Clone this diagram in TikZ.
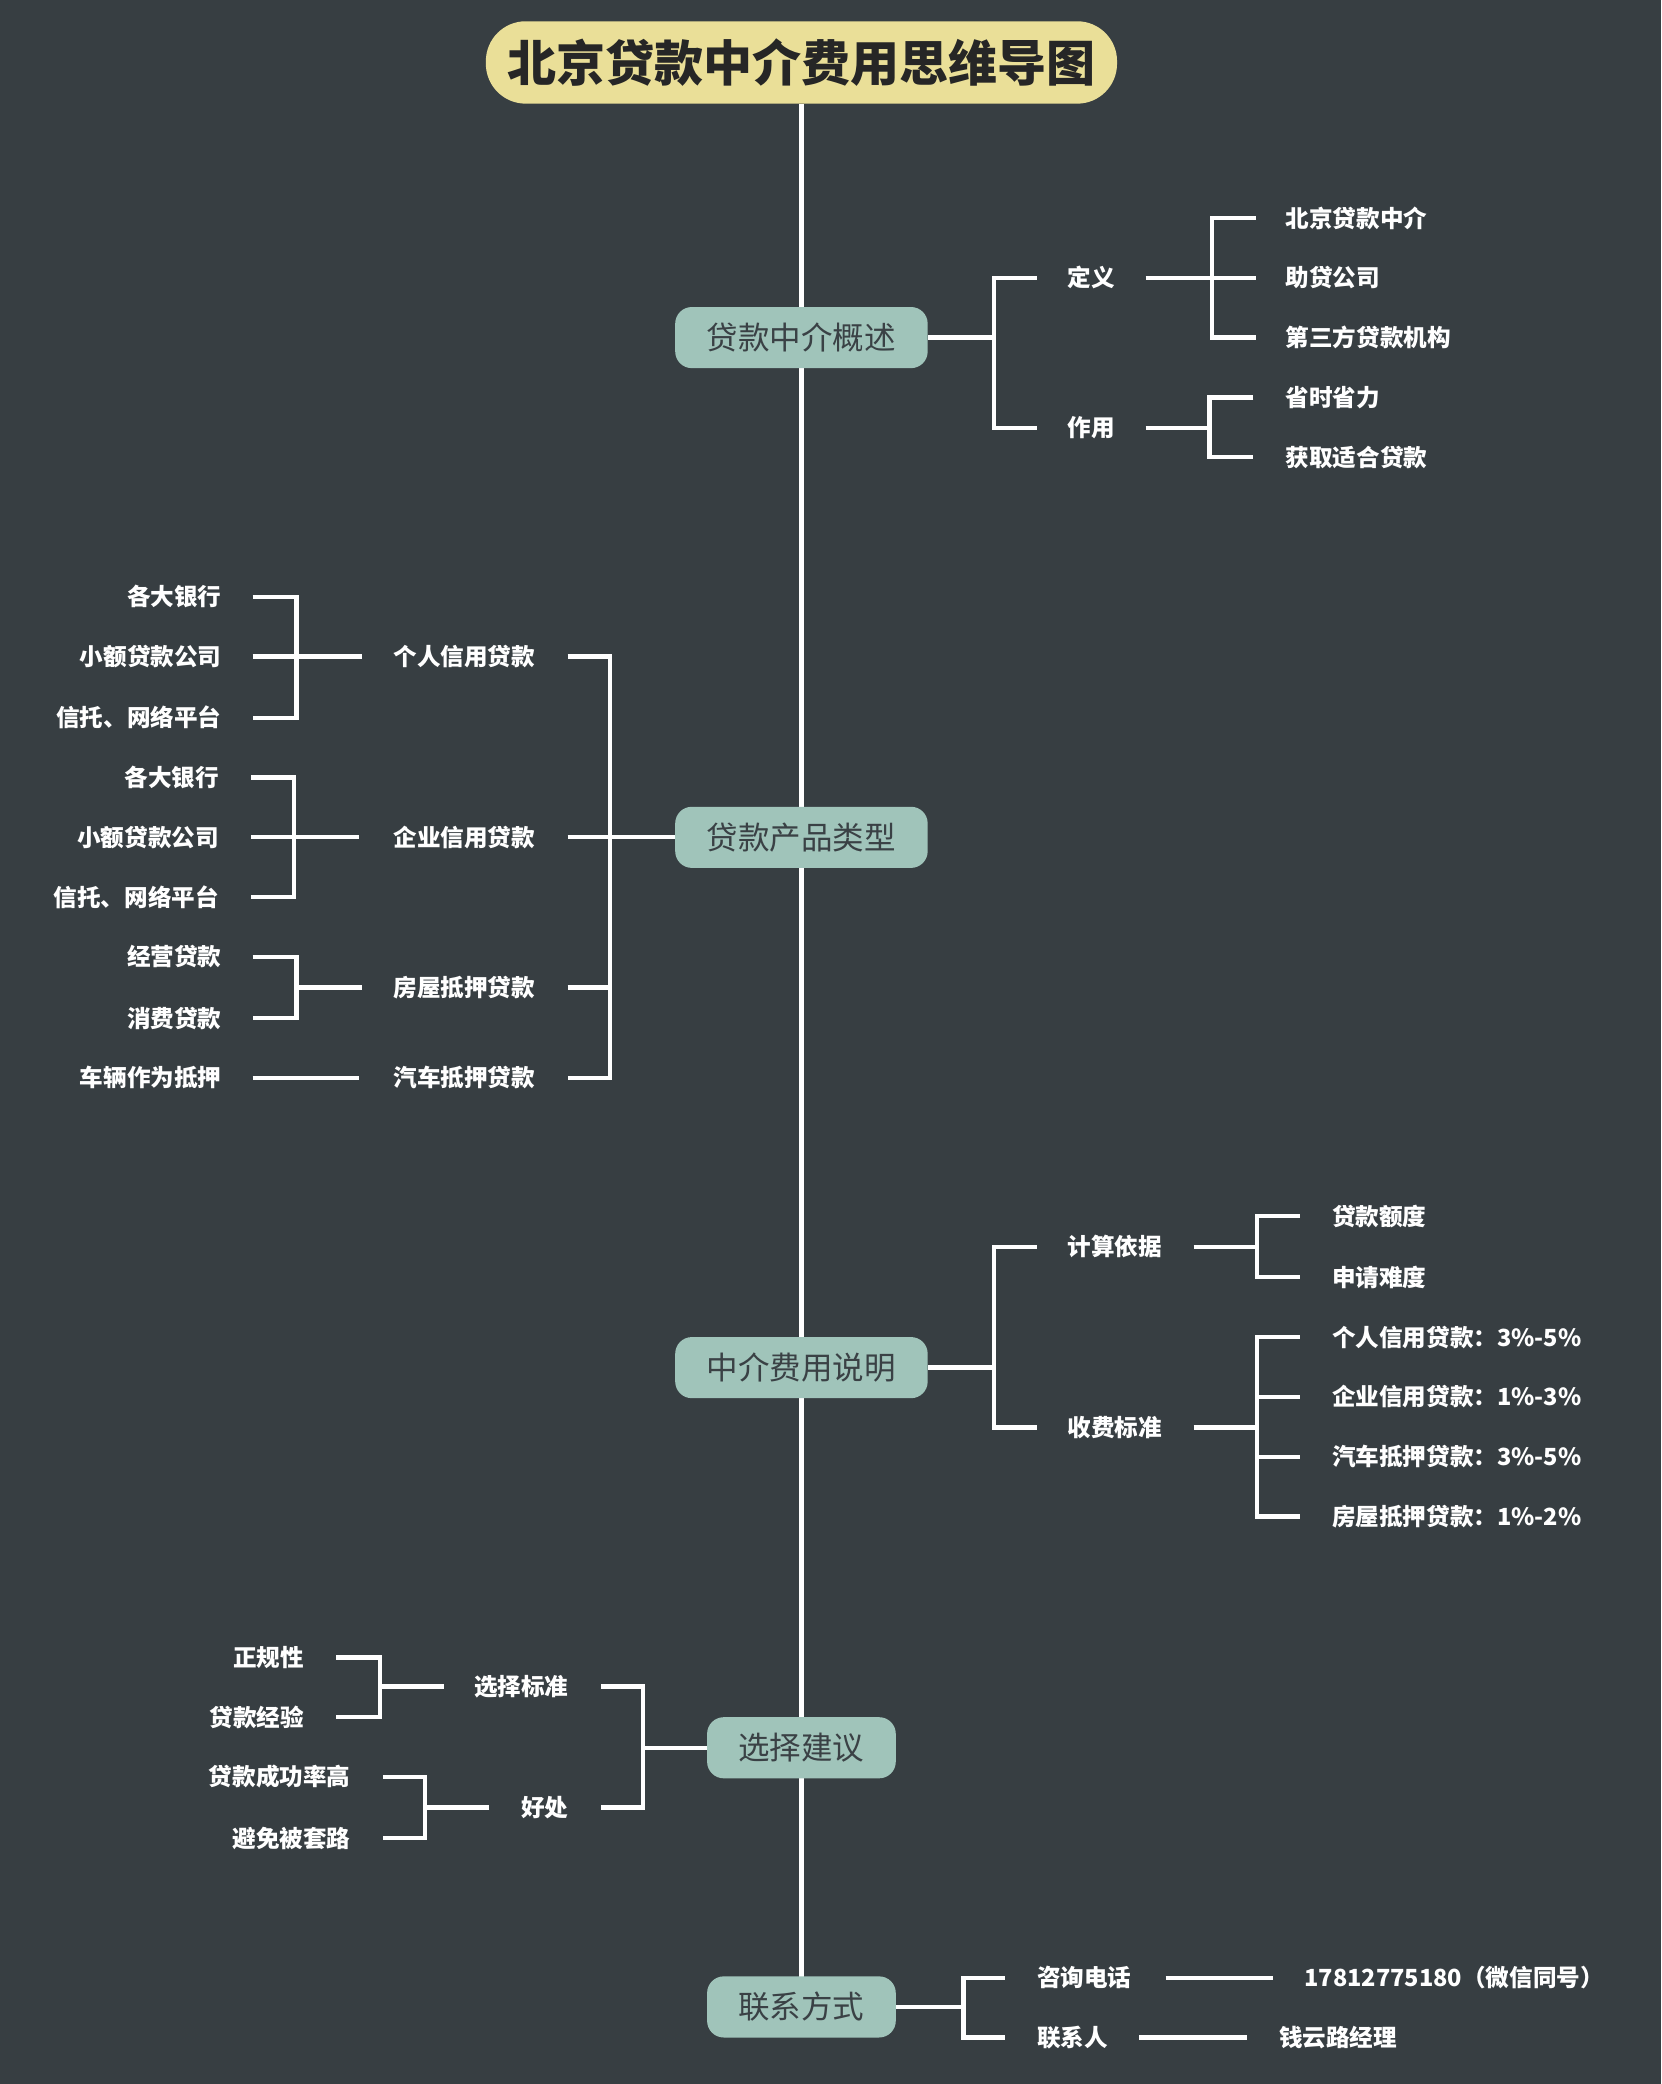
\documentclass[tikz,border=0pt]{standalone}
\usepackage{fontspec}
\setmainfont{Noto Sans CJK SC}
\begin{document}
\begin{tikzpicture}[x=0.02cm,y=-0.02cm,
  ln/.style={draw=white,line width=0.065cm},
  main/.style={fill=mainc,rounded corners=0.25cm,minimum height=0.92cm,text=txtd,font=\fontsize{13.5}{14}\selectfont,inner sep=0pt},
  lf/.style={text=white,font=\bfseries\fontsize{10.1}{11}\selectfont,inner sep=0pt},
  L/.style={lf,anchor=west},R/.style={lf,anchor=east}]
\definecolor{bg}{HTML}{373E42}
\definecolor{mainc}{HTML}{A0C4BA}
\definecolor{titc}{HTML}{EADF98}
\definecolor{txtd}{HTML}{3A4145}
\fill[bg] (0,0) rectangle (1250,1568);
\useasboundingbox (0,0) rectangle (1250,1568);
% spine
\coordinate (s1) at (603,78); \coordinate (s2) at (603,1490);
\draw[ln] (s1) -- (s2);
\node[fill=titc,rounded corners=0.6cm,minimum width=9.5cm,minimum height=1.24cm,text=black!85,font=\bfseries\fontsize{21}{22}\selectfont,inner sep=0pt] (title) at (603,47) {北京贷款中介费用思维导图};
\node[main,minimum width=3.8cm] (m1) at (603,254) {贷款中介概述};
\node[main,minimum width=3.8cm] (m2) at (603,630) {贷款产品类型};
\node[main,minimum width=3.8cm] (m3) at (603,1029) {中介费用说明};
\node[main,minimum width=2.84cm] (m4) at (603,1315) {选择建议};
\node[main,minimum width=2.84cm] (m5) at (603,1510) {联系方式};
% branch 1
\draw[ln] (m1.east) -- (748,254);
\draw[ln] (780,209) -- (748,209) -- (748,322) -- (780,322);
\node[L] (a1) at (803,209) {定义};
\node[L] (a2) at (803,322) {作用};
\draw[ln] (862,209) -- (912,209);
\draw[ln] (945,164) -- (912,164) -- (912,254) -- (945,254);
\draw[ln] (912,209) -- (945,209);
\node[L] at (967,164) {北京贷款中介};
\node[L] at (967,209) {助贷公司};
\node[L] at (967,254) {第三方贷款机构};
\draw[ln] (862,322) -- (910,322);
\draw[ln] (943,299) -- (910,299) -- (910,344) -- (943,344);
\node[L] at (967,299) {省时省力};
\node[L] at (967,344) {获取适合贷款};
% branch 2
\draw[ln] (m2.west) -- (459,630);
\draw[ln] (427,494) -- (459,494) -- (459,811) -- (427,811);
\draw[ln] (427,630) -- (459,630); \draw[ln] (427,743) -- (459,743);
\node[R] at (403,494) {个人信用贷款};
\node[R] at (403,630) {企业信用贷款};
\node[R] at (403,743) {房屋抵押贷款};
\node[R] at (403,811) {汽车抵押贷款};
\draw[ln] (272,494) -- (223,494);
\draw[ln] (190,449) -- (223,449) -- (223,540) -- (190,540); \draw[ln] (190,494) -- (223,494);
\node[R] at (167,449) {各大银行};
\node[R] at (167,494) {小额贷款公司};
\node[R] at (167,540) {信托、网络平台};
\draw[ln] (270,630) -- (221,630);
\draw[ln] (189,585) -- (221,585) -- (221,675) -- (189,675); \draw[ln] (189,630) -- (221,630);
\node[R] at (165,585) {各大银行};
\node[R] at (165,630) {小额贷款公司};
\node[R] at (165,675) {信托、网络平台};
\draw[ln] (272,743) -- (223,743);
\draw[ln] (190,720) -- (223,720) -- (223,766) -- (190,766);
\node[R] at (167,720) {经营贷款};
\node[R] at (167,766) {消费贷款};
\draw[ln] (190,811) -- (270,811);
\node[R] at (167,811) {车辆作为抵押};
% branch 3
\draw[ln] (m3.east) -- (748,1029);
\draw[ln] (780,938) -- (748,938) -- (748,1074) -- (780,1074);
\node[L] at (803,938) {计算依据};
\node[L] at (803,1074) {收费标准};
\draw[ln] (898,938) -- (946,938);
\draw[ln] (978,915) -- (946,915) -- (946,961) -- (978,961);
\node[L] at (1002,915) {贷款额度};
\node[L] at (1002,961) {申请难度};
\draw[ln] (898,1074) -- (946,1074);
\draw[ln] (978,1006) -- (946,1006) -- (946,1141) -- (978,1141);
\draw[ln] (946,1051) -- (978,1051); \draw[ln] (946,1096) -- (978,1096);
\node[L] at (1002,1006) {个人信用贷款：3\%-5\%};
\node[L] at (1002,1051) {企业信用贷款：1\%-3\%};
\node[L] at (1002,1096) {汽车抵押贷款：3\%-5\%};
\node[L] at (1002,1141) {房屋抵押贷款：1\%-2\%};
% branch 4
\draw[ln] (m4.west) -- (484,1315);
\draw[ln] (452,1269) -- (484,1269) -- (484,1360) -- (452,1360);
\node[R] at (428,1269) {选择标准};
\node[R] at (428,1360) {好处};
\draw[ln] (334,1269) -- (286,1269);
\draw[ln] (253,1247) -- (286,1247) -- (286,1292) -- (253,1292);
\node[R] at (229,1247) {正规性};
\node[R] at (229,1292) {贷款经验};
\draw[ln] (368,1360) -- (320,1360);
\draw[ln] (288,1337) -- (320,1337) -- (320,1383) -- (288,1383);
\node[R] at (264,1337) {贷款成功率高};
\node[R] at (264,1383) {避免被套路};
% branch 5
\draw[ln] (m5.east) -- (725,1510);
\draw[ln] (756,1488) -- (725,1488) -- (725,1533) -- (756,1533);
\node[L] at (780,1488) {咨询电话};
\node[L] at (780,1533) {联系人};
\draw[ln] (877,1488) -- (958,1488);
\draw[ln] (857,1533) -- (938,1533);
\node[L] at (981,1488) {17812775180（微信同号）};
\node[L] at (962,1533) {钱云路经理};
\end{tikzpicture}
\end{document}
